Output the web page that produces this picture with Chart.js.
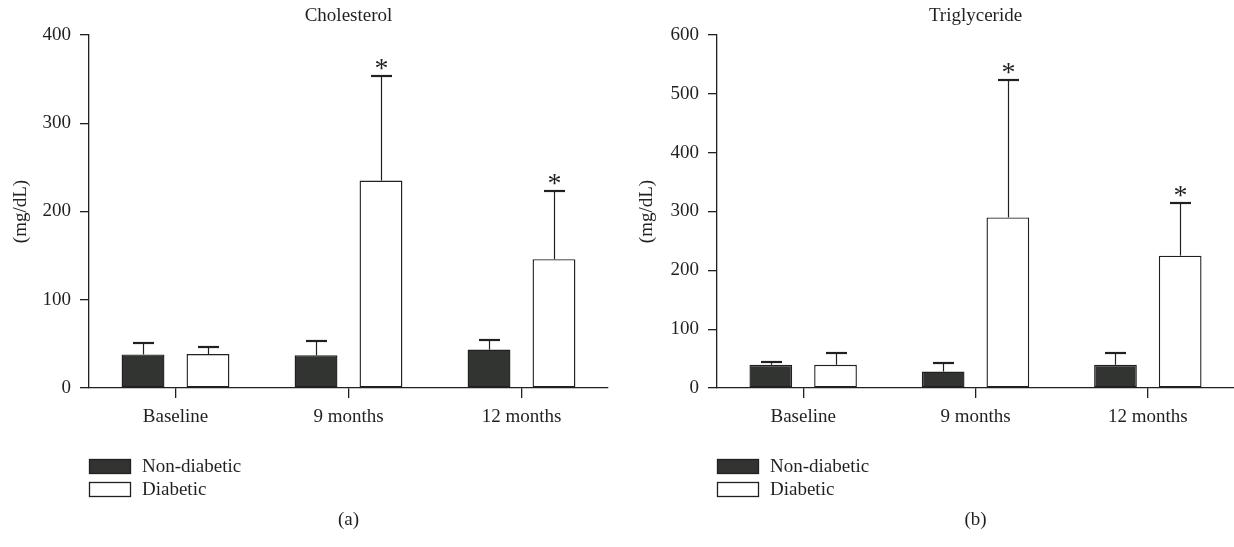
<!DOCTYPE html>
<html>
<head>
<meta charset="utf-8">
<script src="https://cdn.jsdelivr.net/npm/chart.js@4.4.1/dist/chart.umd.min.js"></script>
<style>
  html, body { margin: 0; padding: 0; background: #fff; }
  #wrap { position: relative; width: 1234px; height: 547px; overflow: hidden; }
  canvas { position: absolute; top: 0; }
  #cholChart { left: 0; }
  #trigChart { left: 617px; }
</style>
</head>
<body>
<div id="wrap">
  <canvas id="cholChart" width="617" height="547"></canvas>
  <canvas id="trigChart" width="617" height="547"></canvas>
</div>
<script>
// Lipid profile - Cholesterol / Triglyceride panels
const CATEGORIES = ['Baseline', '9 months', '12 months'];
const SERIES = ['Non-diabetic', 'Diabetic'];

// cholesterol (mg/dL): bar means and top of error bars
const CHOL_NON = [38, 37, 43.5];
const CHOL_NON_ERR = [50.7, 53, 54.5];
const CHOL_DIA = [38.5, 235, 146];
const CHOL_DIA_ERR = [46.5, 353.5, 223];
const CHOL_STARS = [false, true, true];
const CHOL_TICKS = [0, 100, 200, 300, 400];

// triglyceride (mg/dL)
const TRIG_NON = [39.5, 28, 39.5];
const TRIG_NON_ERR = [45, 42, 60];
const TRIG_DIA = [39.5, 290, 225];
const TRIG_DIA_ERR = [59, 523, 314];
const TRIG_STARS = [false, true, true];
const TRIG_TICKS = [0, 100, 200, 300, 400, 500, 600];

const INK = '#231f20';
const DARK = '#323432';
const FONT = '"Liberation Serif", "DejaVu Serif", serif';

const extrasPlugin = {
  id: 'extras',
  afterDatasetsDraw(chart) {
    const { ctx } = chart;
    const y = chart.scales.y;
    ctx.save();
    ctx.strokeStyle = INK;
    ctx.fillStyle = INK;
    chart.data.datasets.forEach((ds, i) => {
      const meta = chart.getDatasetMeta(i);
      meta.data.forEach((bar, j) => {
        const x = Math.round(bar.x) + 0.5;
        const yTop = y.getPixelForValue(ds.data[j]);
        const yErr = Math.round(y.getPixelForValue(ds.errTop[j]));
        ctx.lineWidth = 1.2;
        ctx.beginPath();
        ctx.moveTo(x, yTop);
        ctx.lineTo(x, yErr);
        ctx.stroke();
        ctx.lineWidth = 2.2;
        ctx.beginPath();
        ctx.moveTo(x - 10.5, yErr);
        ctx.lineTo(x + 10.5, yErr);
        ctx.stroke();
        if (ds.stars && ds.stars[j]) {
          ctx.font = '28px ' + FONT;
          ctx.textAlign = 'center';
          ctx.textBaseline = 'alphabetic';
          ctx.fillText('*', x, yErr + 1);
        }
      });
    });
    ctx.restore();
  },
  afterDraw(chart) {
    const o = chart.options.plugins.extras;
    const { ctx, chartArea } = chart;
    const cx = (chartArea.left + chartArea.right) / 2;
    ctx.save();
    ctx.fillStyle = INK;
    ctx.font = '19px ' + FONT;
    ctx.textAlign = 'center';
    ctx.textBaseline = 'middle';
    ctx.fillText(o.title, cx, 16);
    ctx.fillText(o.panel, cx, 520);
    // legend
    ctx.textAlign = 'left';
    chart.data.datasets.forEach((ds, i) => {
      const ly = 459 + i * 23;
      const lx = chartArea.left;
      ctx.fillStyle = ds.backgroundColor;
      ctx.fillRect(lx, ly, 42, 15);
      ctx.strokeStyle = INK;
      ctx.lineWidth = 1.3;
      ctx.strokeRect(lx + 0.5, ly + 0.5, 41, 14);
      ctx.fillStyle = INK;
      ctx.fillText(ds.label, lx + 53, ly + 8);
    });
    ctx.restore();
  }
};

function makePanel(id, opts) {
  const ticks = opts.ticks;
  return new Chart(document.getElementById(id), {
    type: 'bar',
    data: {
      labels: CATEGORIES,
      datasets: [
        { label: SERIES[0], data: opts.non, errTop: opts.nonErr, backgroundColor: DARK,
          borderColor: INK, borderWidth: 1.4, borderSkipped: false },
        { label: SERIES[1], data: opts.dia, errTop: opts.diaErr, stars: opts.stars, backgroundColor: '#ffffff',
          borderColor: INK, borderWidth: 1.4, borderSkipped: false },
      ],
    },
    options: {
      responsive: false,
      animation: false,
      categoryPercentage: 0.751,
      barPercentage: 0.66,
      layout: { padding: { left: 0, right: opts.padRight, top: 35, bottom: 0 } },
      plugins: {
        legend: { display: false },
        tooltip: { enabled: false },
        extras: { title: opts.title, panel: opts.panel },
      },
      scales: {
        x: {
          grid: { display: true, drawOnChartArea: false, offset: false, tickLength: 10, color: INK, lineWidth: 1.3 },
          border: { display: true, color: INK, width: 1.3 },
          ticks: { color: INK, font: { family: FONT, size: 19 }, padding: 8 },
          afterFit: (s) => { s.height = 159; },
        },
        y: {
          min: ticks[0], max: ticks[ticks.length - 1],
          afterBuildTicks: (s) => { s.ticks = ticks.map(v => ({ value: v })); },
          grid: { display: true, drawOnChartArea: false, tickLength: 9, color: INK, lineWidth: 1.3 },
          border: { display: true, color: INK, width: 1.3 },
          ticks: { color: INK, font: { family: FONT, size: 19 }, padding: 9 },
          title: { display: true, text: '(mg/dL)', color: INK, font: { family: FONT, size: 19 },
            padding: { top: opts.titlePad, bottom: 0 } },
          afterFit: (s) => { s.width = opts.axisWidth; },
        },
      },
    },
    plugins: [extrasPlugin],
  });
}

makePanel('cholChart', {
  title: 'Cholesterol', panel: '(a)', ticks: CHOL_TICKS,
  non: CHOL_NON, nonErr: CHOL_NON_ERR, dia: CHOL_DIA, diaErr: CHOL_DIA_ERR, stars: CHOL_STARS,
  axisWidth: 89, padRight: 9, titlePad: 10,
});
makePanel('trigChart', {
  title: 'Triglyceride', panel: '(b)', ticks: TRIG_TICKS,
  non: TRIG_NON, nonErr: TRIG_NON_ERR, dia: TRIG_DIA, diaErr: TRIG_DIA_ERR, stars: TRIG_STARS,
  axisWidth: 100, padRight: 0, titlePad: 19,
});
</script>
</body>
</html>
